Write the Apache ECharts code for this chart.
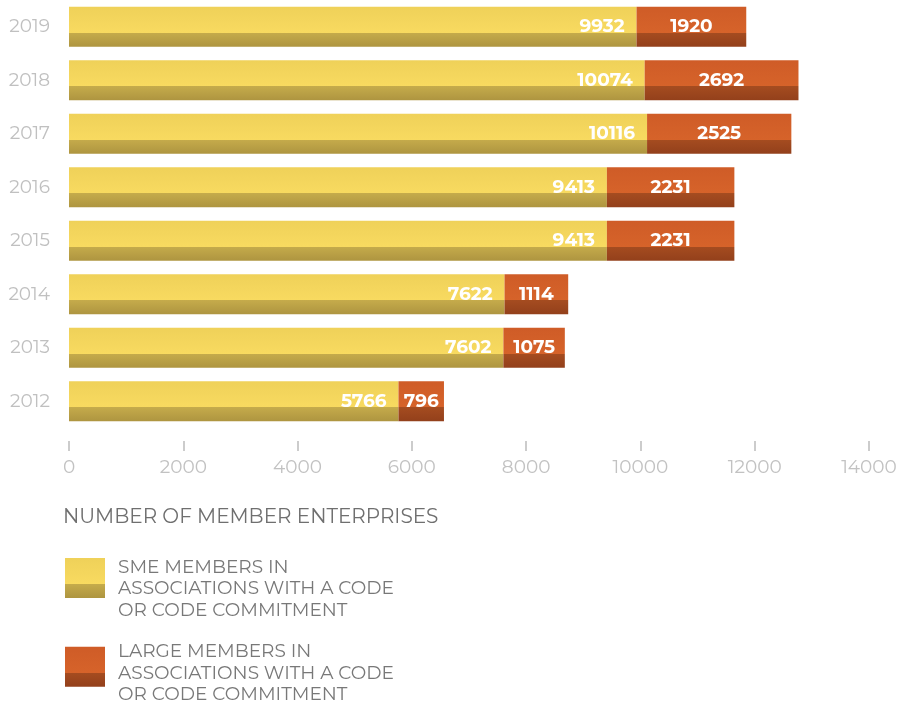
<!DOCTYPE html>
<html>
<head>
<meta charset="utf-8">
<script src="https://cdn.jsdelivr.net/npm/echarts@6/dist/echarts.min.js"></script>
<style>html,body{margin:0;padding:0;background:#fff;}#c{width:902px;height:704px;}</style>
</head>
<body>
<div id="c"></div>
<script>
const years = ['2012','2013','2014','2015','2016','2017','2018','2019'];
const smeMembers = [5766, 7602, 7622, 9413, 9413, 10116, 10074, 9932];
const largeMembers = [796, 1075, 1114, 2231, 2231, 2525, 2692, 1920];
const xTicks = { min: 0, max: 14000, interval: 2000 };
const seriesNames = ['SME MEMBERS IN\nASSOCIATIONS WITH A CODE\nOR CODE COMMITMENT', 'LARGE MEMBERS IN\nASSOCIATIONS WITH A CODE\nOR CODE COMMITMENT'];
const axisTitle = 'NUMBER OF MEMBER ENTERPRISES';

function twoTone(light, dark, split) {
  return {
    type: 'linear', x: 0, y: 0, x2: 0, y2: 1,
    colorStops: [
      { offset: 0, color: light[0] },
      { offset: split, color: light[1] },
      { offset: split, color: dark[0] },
      { offset: 1, color: dark[1] }
    ]
  };
}
const smeColor = twoTone(['#efd159', '#f8da60'], ['#c5ab4b', '#ae9540'], 0.65);
const largeColor = twoTone(['#cf5c27', '#d6632a'], ['#a54c20', '#93401b'], 0.65);

const font = 'Montserrat, "Noto Sans", "Open Sans", sans-serif';
const legendText = { color: '#787878', fontSize: 18.5, fontFamily: font, lineHeight: 21.5, padding: [0, 0, 0, 8] };
const legendText2 = Object.assign({}, legendText, {
  rich: {
    g: { fontSize: 10, lineHeight: 13, color: '#787878', fontFamily: font },
    t: { fontSize: 18.5, lineHeight: 21.5, color: '#787878', fontFamily: font }
  }
});
const chart = echarts.init(document.getElementById('c'));
chart.setOption({
  backgroundColor: '#fff',
  animation: false,
  grid: { left: 69, right: 33, top: 0, height: 428, containLabel: false },
  xAxis: {
    type: 'value', min: xTicks.min, max: xTicks.max, interval: xTicks.interval,
    offset: 13,
    axisLine: { show: false },
    axisTick: { show: true, length: 10, lineStyle: { color: '#cccccc', width: 2 } },
    splitLine: { show: false },
    axisLabel: { color: '#c2c2c2', fontSize: 18.5, fontFamily: font, margin: 17, formatter: v => String(v) }
  },
  yAxis: {
    type: 'category', data: years,
    axisLine: { show: false }, axisTick: { show: false },
    axisLabel: { color: '#c0c0c0', fontSize: 18.5, fontFamily: font, margin: 19 }
  },
  legend: [
    {
      orient: 'vertical', left: 65, top: 535, padding: 0,
      itemWidth: 40, itemHeight: 40, icon: 'rect',
      formatter: name => '\n' + name,
      textStyle: legendText, data: [seriesNames[0]]
    },
    {
      orient: 'vertical', left: 65, top: 628, padding: 0,
      itemWidth: 40, itemHeight: 40, icon: 'rect',
      formatter: name => '{g| }\n{t|' + name + '}',
      textStyle: legendText2, data: [seriesNames[1]]
    }
  ],
  title: {
    text: axisTitle, left: 63, top: 507, padding: 0,
    textStyle: { color: '#6f6f6f', fontSize: 20, fontWeight: 'normal', fontFamily: font }
  },
  series: [
    {
      name: seriesNames[0], type: 'bar', stack: 'total', data: smeMembers, barWidth: 40,
      itemStyle: { color: smeColor },
      label: { show: true, position: 'insideRight', distance: 12, color: '#fff', fontWeight: 'bold', fontSize: 18.5, fontFamily: font }
    },
    {
      name: seriesNames[1], type: 'bar', stack: 'total', data: largeMembers, barWidth: 40,
      itemStyle: { color: largeColor },
      label: { show: true, position: 'inside', color: '#fff', fontWeight: 'bold', fontSize: 18.5, fontFamily: font }
    }
  ]
});
</script>
</body>
</html>
